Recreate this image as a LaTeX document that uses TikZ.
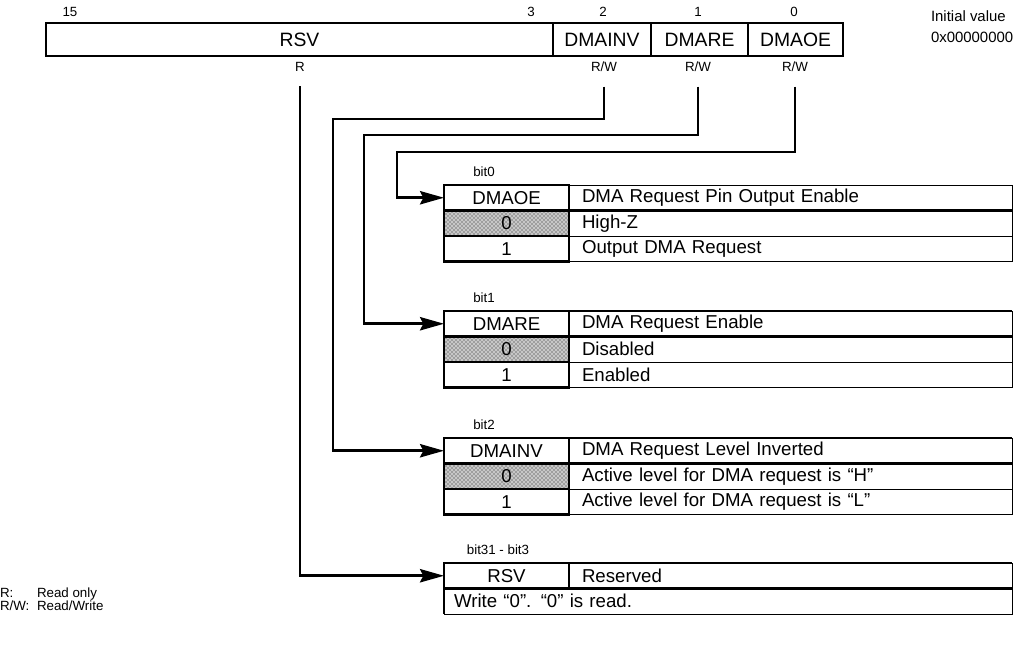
\documentclass[tikz,border=0pt]{standalone}
\usepackage{fontspec}
\setmainfont{Liberation Sans}
\usetikzlibrary{arrows.meta,patterns}
\begin{document}
\begin{tikzpicture}[x=0.75pt,y=-0.75pt,
  every node/.style={inner sep=0pt, outer sep=0pt},
  big/.style={font=\fontsize{14}{16}\selectfont},
  reg/.style={font=\fontsize{14.5}{16}\selectfont},
  mid/.style={font=\fontsize{11.2}{13}\selectfont},
  small/.style={font=\fontsize{10}{12}\selectfont},
  fld/.style={draw, line width=2pt, reg, minimum height={33*0.75pt}},
  lcell/.style={draw, line width=2pt, big, minimum width={125*0.75pt}, minimum height={25.5*0.75pt}},
  shade/.style={preaction={fill=black!22}, pattern=crosshatch dots, pattern color=black!90},
  rcell/.style={draw, line width=0.6pt, big, minimum height={25.5*0.75pt}, inner xsep={13*0.75pt}, text width={417*0.75pt}, align=left},
  wcell/.style={draw, line width=0.6pt, big, minimum height={25.5*0.75pt}, inner xsep={10*0.75pt}, text width={548*0.75pt}, align=left},
  thick line/.style={line width=2pt},
  conn/.style={line width=2pt, -{Stealth[length=18pt,width=10pt,inset=2.5pt]}}
]
\useasboundingbox (0,0) rectangle (1016,648);

% ---------- register ----------
\node[fld, minimum width={507*0.75pt}] (fRSV) at (299.5,39.5) {RSV};
\node[fld, minimum width={98*0.75pt}] (fINV) at (602,39.5) {DMAINV};
\node[fld, minimum width={97*0.75pt}] (fRE) at (699.5,39.5) {DMARE};
\node[fld, minimum width={95*0.75pt}] (fOE) at (795.5,39.5) {DMAOE};

\node[small] (n15) at (70,12) {15};
\node[small] (n3) at (531,12) {3};
\node[small] (n2) at (603,12) {2};
\node[small] (n1) at (698,12) {1};
\node[small] (n0) at (794,12) {0};

\node[small] (aR) at (300,67) {R};
\node[small] (aINV) at (604,67) {R/W};
\node[small] (aRE) at (698,67) {R/W};
\node[small] (aOE) at (795,67) {R/W};

\node[mid, anchor=west] (iv1) at (931,16) {Initial value};
\node[mid, anchor=west] (iv2) at (931,37) {0x00000000};

% ---------- bit0 table ----------
\node[small] (b0) at (484,172) {bit0};
\node[lcell] (h0) at (506.5,197.75) {DMAOE};
\node[rcell, anchor=west] (h0r) at (569,197.75) {DMA Request Pin Output Enable};
\node[lcell, shade] (z0) at (506.5,223.25) {0};
\node[rcell, anchor=west] (z0r) at (569,223.25) {High-Z};
\node[lcell] (o0) at (506.5,248.75) {1};
\node[rcell, anchor=west] (o0r) at (569,248.75) {Output DMA Request};
\draw[thick line] (h0r.south west) -- (h0r.south east);

% ---------- bit1 table ----------
\node[small] (b1) at (484,298) {bit1};
\node[lcell] (h1) at (506.5,323.75) {DMARE};
\node[rcell, anchor=west] (h1r) at (569,323.75) {DMA Request Enable};
\node[lcell, shade] (z1) at (506.5,349.25) {0};
\node[rcell, anchor=west] (z1r) at (569,349.25) {Disabled};
\node[lcell] (o1) at (506.5,374.75) {1};
\node[rcell, anchor=west] (o1r) at (569,374.75) {Enabled};
\draw[thick line] (h1r.north west) -- (h1r.north east);
\draw[thick line] (h1r.south west) -- (h1r.south east);

% ---------- bit2 table ----------
\node[small] (b2) at (484,425) {bit2};
\node[lcell] (h2) at (506.5,450.75) {DMAINV};
\node[rcell, anchor=west] (h2r) at (569,450.75) {DMA Request Level Inverted};
\node[lcell, shade] (z2) at (506.5,476.25) {0};
\node[rcell, anchor=west] (z2r) at (569,476.25) {Active level for DMA request is “H”};
\node[lcell] (o2) at (506.5,501.75) {1};
\node[rcell, anchor=west] (o2r) at (569,501.75) {Active level for DMA request is “L”};
\draw[thick line] (h2r.north west) -- (h2r.north east);
\draw[thick line] (h2r.south west) -- (h2r.south east);

% ---------- bit31-bit3 table ----------
\node[small] (b3) at (498,550) {bit31 - bit3};
\node[lcell] (h3) at (506.5,575.75) {RSV};
\node[rcell, anchor=west] (h3r) at (569,575.75) {Reserved};
\node[wcell, anchor=north west] (w3) at (444,588.5) {Write “0”. “0” is read.};
\draw[thick line] (h3r.north west) -- (h3r.north east);
\draw[thick line] (h3r.south west) -- (h3r.south east);
\draw[thick line] (w3.north west) -- (w3.south west);

% ---------- connectors ----------
\draw[conn] ([yshift=-11pt]aOE.south) |- (397,152) |- (h0.west);
\draw[conn] ([yshift=-11pt]aRE.south) |- (364,135) |- (h1.west);
\draw[conn] ([yshift=-11pt]aINV.south) |- (333,119) |- (h2.west);
\draw[conn] ([yshift=-11pt]aR.south) |- (h3.west);

% ---------- legend ----------
\node[small, anchor=base west] (lg1) at (0,597) {R:};
\node[small, anchor=base west] (lg1t) at (37,597) {Read only};
\node[small, anchor=base west] (lg2) at (0,610) {R/W:};
\node[small, anchor=base west] (lg2t) at (37,610) {Read/Write};
\end{tikzpicture}
\end{document}
